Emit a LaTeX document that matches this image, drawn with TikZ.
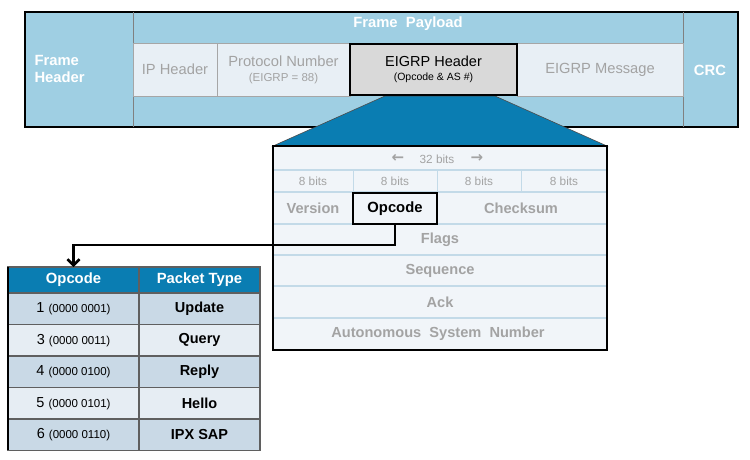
\documentclass[tikz,border=0pt]{standalone}
\usepackage{fontspec}
\setmainfont{Liberation Sans}
\newfontfamily\arrowfont{DejaVu Sans}
\usetikzlibrary{positioning,arrows.meta}

\definecolor{framebg}{HTML}{9FCFE3}
\definecolor{deepblue}{HTML}{0A7DB2}
\definecolor{cellbg}{HTML}{E8EFF5}
\definecolor{greytxt}{HTML}{A3A3A3}
\definecolor{boxgrey}{HTML}{D9D9D9}
\definecolor{rowline}{HTML}{C3DAE8}
\definecolor{rowdark}{HTML}{C9D9E6}
\definecolor{rowlight}{HTML}{E6EDF3}
\definecolor{tabline}{HTML}{5F5F5F}

\tikzset{
  cell/.style={anchor=north west, inner sep=0pt, outer sep=0pt},
  paycell/.style={cell, fill=cellbg, draw=gray!70, line width=0.8pt},
  greylbl/.style={text=greytxt, font=\fontsize{14.7}{17}\selectfont},
  hdrlbl/.style={text=white, font=\bfseries\fontsize{14.8}{17}\selectfont},
  fieldlbl/.style={text=greytxt, font=\bfseries\fontsize{14.6}{17}\selectfont},
  bitlbl/.style={text=greytxt, font=\fontsize{11.8}{13}\selectfont},
  tabcell/.style={cell, draw=tabline, line width=1.5pt, minimum height=31.5pt},
}

\begin{document}
\begin{tikzpicture}[x=1pt,y=-1pt]
\useasboundingbox (0,0) rectangle (750,459);

% Frame
\draw[fill=framebg, line width=1.5pt] (25,12) rectangle (738,127);
\draw[gray, line width=0.6pt] (133,12) -- (133,127);
\draw[gray, line width=0.6pt] (683,12) -- (683,127);
\node[hdrlbl, align=left, anchor=west] (fhdr) at (31,69) {Frame\\Header};
\node[hdrlbl] (fpay) at (408,24) {Frame~~Payload};
\node[hdrlbl] (crc) at (710,70) {CRC};

% Payload fields
\node[paycell, minimum width=84pt, minimum height=53pt] (iph) at (133,43) {};
\node[greylbl] at (iph) {IP Header};
\node[paycell, minimum width=133pt, minimum height=53pt] (proto) at (217,43) {};
\node[greylbl, align=center] at (proto) {Protocol Number\\[-2pt]{\fontsize{11.5}{13}\selectfont (EIGRP = 88)}};
\node[paycell, minimum width=166pt, minimum height=53pt] (msg) at (517,43) {};
\node[greylbl] at (msg) {EIGRP Message};

% Trapezoid
\coordinate (tl) at (385,96);
\coordinate (tr) at (495,96);
\coordinate (bl) at (273,146);
\coordinate (br) at (607,146);
\draw[fill=deepblue, draw=black!70, line width=0.6pt] (tl) -- (tr) -- (br) -- (bl) -- cycle;

\node[cell, fill=boxgrey, draw=black, line width=2.5pt, minimum width=167pt, minimum height=51pt,
  align=center, font=\fontsize{14.5}{16}\selectfont] (eigrp) at (350,44)
  {EIGRP Header\\[-2pt]{\fontsize{10.5}{12}\selectfont (Opcode \& AS \#)}};

% EIGRP header box
\fill[cellbg!60] (273,146) rectangle (607,350);
\foreach \yy in {170,192,224,255,286,318}
  \draw[rowline, line width=1.2pt] (273,\yy) -- (607,\yy);
\foreach \xx in {353,437,521}
  \draw[rowline, line width=0.8pt] (\xx,170) -- (\xx,192);
\draw[line width=1.5pt] (273,146) rectangle (607,350);

\node[bitlbl] (b32) at (437,159) {32 bits};
\node[bitlbl, font=\arrowfont\bfseries\fontsize{15}{16}\selectfont] (larr) at (398,158) {←};
\node[bitlbl, font=\arrowfont\bfseries\fontsize{15}{16}\selectfont] (rarr) at (477,158) {→};
\foreach \xx/\nm in {313/ba,395/bb,479/bc,564/bd}
  \node[bitlbl] (\nm) at (\xx,181) {8 bits};

\node[fieldlbl] (ver) at (313,208) {Version};
\node[cell, draw=black, line width=2.5pt, minimum width=84pt, minimum height=31pt,
  font=\bfseries\fontsize{14.8}{17}\selectfont] (opc) at (353,193) {Opcode};
\node[fieldlbl] (chk) at (521,208) {Checksum};
\node[fieldlbl] (flg) at (440,240) {Flags};
\node[fieldlbl] (seq) at (440,271) {Sequence};
\node[fieldlbl] (ack) at (440,302) {Ack};
\node[fieldlbl] (asn) at (438,334) {Autonomous~ System~ Number};

% Opcode table
\node[tabcell, fill=deepblue, minimum width=131pt, minimum height=26pt, hdrlbl] (hop) at (8,267) {Opcode};
\node[tabcell, fill=deepblue, minimum width=121pt, minimum height=26pt, hdrlbl] (hty) at (139,267) {Packet Type};
\foreach \op/\bin/\typ [count=\i] in {1/0000 0001/Update, 3/0000 0011/Query, 4/0000 0100/Reply, 5/0000 0101/Hello, 6/0000 0110/IPX SAP}{
  \pgfmathsetmacro{\yy}{293+31.5*(\i-1)}
  \ifodd\i \def\rowfill{rowdark}\else \def\rowfill{rowlight}\fi
  \node[tabcell, fill=\rowfill, minimum width=131pt, font=\fontsize{14.5}{17}\selectfont] (op\i) at (8,\yy)
    {\op\ {\fontsize{11.5}{13}\selectfont (\bin)}};
  \node[tabcell, fill=\rowfill, minimum width=121pt, font=\bfseries\fontsize{14.5}{17}\selectfont] (ty\i) at (139,\yy) {\typ};
}
\draw[black, line width=1.5pt] (8,267) -- (8,450);

% Connector
\draw[line width=2.5pt, -{Straight Barb[length=6pt,width=12pt]}] (opc.south) -- ++(0,21) -| (hop.north);

\end{tikzpicture}
\end{document}
